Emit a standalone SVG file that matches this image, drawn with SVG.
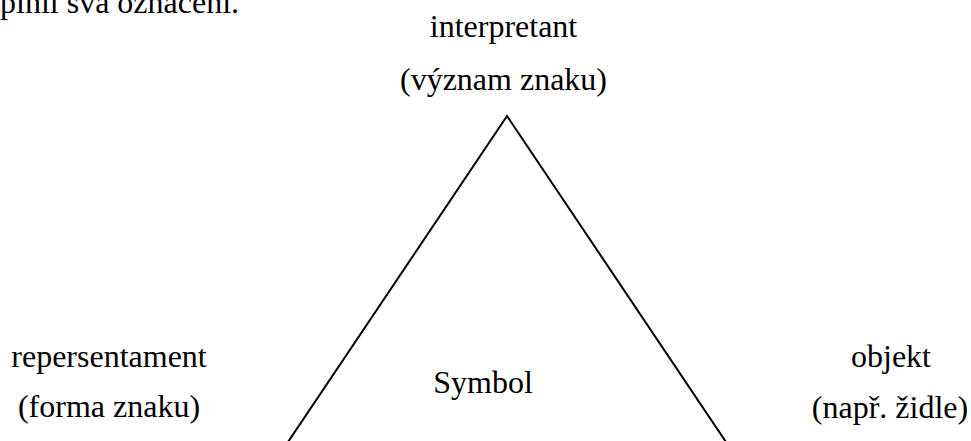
<svg xmlns="http://www.w3.org/2000/svg" width="971" height="441" viewBox="0 0 971 441">
<style>
.t{font-family:"Liberation Serif","Times New Roman",serif;font-size:32px;fill:#000}
.e{stroke:#000;stroke-width:2;fill:none;stroke-linejoin:miter}
</style>
<rect width="971" height="441" fill="#fff"/>
<text class="t" x="0" y="13">plnil svá označení.</text>
<g id="connectors">
<polyline class="e" points="288,442 507,116 726,442"/>
</g>
<g id="interpretant">
<text class="t" x="503.5" y="37" text-anchor="middle">interpretant</text>
<text class="t" x="503.5" y="90" text-anchor="middle">(význam znaku)</text>
</g>
<g id="representamen">
<text class="t" x="109" y="367" text-anchor="middle">repersentament</text>
<text class="t" x="109" y="417" text-anchor="middle">(forma znaku)</text>
</g>
<g id="symbol">
<text class="t" x="483" y="393" text-anchor="middle">Symbol</text>
</g>
<g id="objekt">
<text class="t" x="891" y="367" text-anchor="middle">objekt</text>
<text class="t" x="890" y="418" text-anchor="middle">(např. židle)</text>
</g>
</svg>
